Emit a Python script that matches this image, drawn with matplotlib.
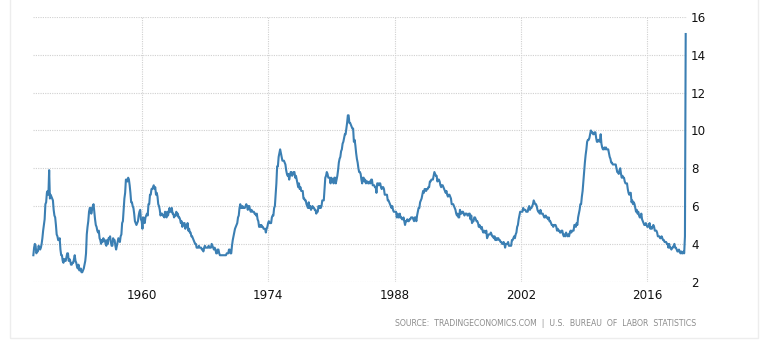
import matplotlib
matplotlib.use("Agg")
import matplotlib.pyplot as plt
import numpy as np
import pandas as pd
from matplotlib.patches import Rectangle

# US unemployment rate (%), monthly, Jan 1948 - Apr 2020
rate_1948_1959 = [
    3.4, 3.8, 4.0, 3.9, 3.5, 3.6, 3.6, 3.9, 3.8, 3.7, 3.8, 4.0,
    4.3, 4.7, 5.0, 5.3, 6.1, 6.2, 6.7, 6.8, 6.6, 7.9, 6.4, 6.6,
    6.5, 6.4, 6.3, 5.8, 5.5, 5.4, 5.0, 4.5, 4.4, 4.2, 4.2, 4.3,
    3.7, 3.4, 3.4, 3.1, 3.0, 3.2, 3.1, 3.1, 3.3, 3.5, 3.5, 3.1,
    3.2, 3.1, 2.9, 2.9, 3.0, 3.0, 3.2, 3.4, 3.1, 3.0, 2.8, 2.7,
    2.9, 2.6, 2.6, 2.7, 2.5, 2.5, 2.6, 2.7, 2.9, 3.1, 3.5, 4.5,
    4.9, 5.2, 5.7, 5.9, 5.9, 5.6, 5.8, 6.0, 6.1, 5.7, 5.3, 5.0,
    4.9, 4.7, 4.6, 4.7, 4.3, 4.2, 4.0, 4.2, 4.1, 4.3, 4.2, 4.2,
    4.0, 3.9, 4.2, 4.0, 4.3, 4.3, 4.4, 4.1, 3.9, 3.9, 4.3, 4.2,
    4.2, 3.9, 3.7, 3.9, 4.1, 4.3, 4.2, 4.1, 4.4, 4.5, 5.1, 5.2,
    5.8, 6.4, 6.7, 7.4, 7.4, 7.3, 7.5, 7.4, 7.1, 6.7, 6.2, 6.2,
    6.0, 5.9, 5.6, 5.2, 5.1, 5.0, 5.1, 5.2, 5.5, 5.7, 5.8, 5.3,
]
rate_1960_1969 = [
    5.2, 4.8, 5.4, 5.2, 5.1, 5.4, 5.5, 5.6, 5.5, 6.1, 6.1, 6.6,
    6.6, 6.9, 6.9, 7.0, 7.1, 6.9, 7.0, 6.6, 6.7, 6.5, 6.1, 6.0,
    5.8, 5.5, 5.6, 5.6, 5.5, 5.5, 5.4, 5.7, 5.6, 5.4, 5.7, 5.5,
    5.7, 5.9, 5.7, 5.7, 5.9, 5.6, 5.6, 5.4, 5.5, 5.5, 5.7, 5.5,
    5.6, 5.4, 5.4, 5.3, 5.1, 5.2, 4.9, 5.0, 5.1, 5.1, 4.8, 5.0,
    4.9, 5.1, 4.7, 4.8, 4.6, 4.6, 4.4, 4.4, 4.3, 4.2, 4.1, 4.0,
    4.0, 3.8, 3.8, 3.8, 3.9, 3.8, 3.8, 3.8, 3.7, 3.7, 3.6, 3.8,
    3.9, 3.8, 3.8, 3.8, 3.8, 3.9, 3.8, 3.8, 3.8, 4.0, 3.9, 3.8,
    3.7, 3.8, 3.7, 3.5, 3.5, 3.7, 3.7, 3.5, 3.4, 3.4, 3.4, 3.4,
    3.4, 3.4, 3.4, 3.4, 3.4, 3.5, 3.5, 3.5, 3.7, 3.7, 3.5, 3.5,
]
rate_1970_1979 = [
    3.9, 4.2, 4.4, 4.6, 4.8, 4.9, 5.0, 5.1, 5.4, 5.5, 5.9, 6.1,
    5.9, 5.9, 6.0, 5.9, 5.9, 5.9, 6.0, 6.1, 6.0, 5.8, 6.0, 6.0,
    5.8, 5.7, 5.8, 5.7, 5.7, 5.7, 5.6, 5.6, 5.5, 5.6, 5.3, 5.2,
    4.9, 5.0, 4.9, 5.0, 4.9, 4.9, 4.8, 4.8, 4.8, 4.6, 4.8, 4.9,
    5.1, 5.2, 5.1, 5.1, 5.1, 5.4, 5.5, 5.5, 5.9, 6.0, 6.6, 7.2,
    8.1, 8.1, 8.6, 8.8, 9.0, 8.8, 8.6, 8.4, 8.4, 8.4, 8.3, 8.2,
    7.9, 7.7, 7.6, 7.7, 7.4, 7.6, 7.8, 7.8, 7.6, 7.7, 7.8, 7.8,
    7.5, 7.6, 7.4, 7.2, 7.0, 7.2, 6.9, 7.0, 6.8, 6.8, 6.8, 6.4,
    6.4, 6.3, 6.3, 6.1, 6.0, 5.9, 6.2, 5.9, 6.0, 5.8, 5.9, 6.0,
    5.9, 5.9, 5.8, 5.8, 5.6, 5.7, 5.7, 6.0, 5.9, 6.0, 5.9, 6.0,
]
rate_1980_1989 = [
    6.3, 6.3, 6.3, 6.9, 7.5, 7.6, 7.8, 7.7, 7.5, 7.5, 7.5, 7.2,
    7.5, 7.4, 7.4, 7.2, 7.5, 7.5, 7.2, 7.4, 7.6, 7.9, 8.3, 8.5,
    8.6, 8.9, 9.0, 9.3, 9.4, 9.6, 9.8, 9.8, 10.1, 10.4, 10.8, 10.8,
    10.4, 10.4, 10.3, 10.2, 10.1, 10.1, 9.4, 9.5, 9.2, 8.8, 8.5, 8.3,
    8.0, 7.8, 7.8, 7.7, 7.4, 7.2, 7.5, 7.5, 7.3, 7.4, 7.2, 7.3,
    7.3, 7.2, 7.2, 7.3, 7.2, 7.4, 7.4, 7.1, 7.1, 7.1, 7.0, 7.0,
    6.7, 7.2, 7.2, 7.1, 7.2, 7.2, 7.0, 6.9, 7.0, 7.0, 6.9, 6.6,
    6.6, 6.6, 6.6, 6.3, 6.3, 6.2, 6.1, 6.0, 5.9, 6.0, 5.8, 5.7,
    5.7, 5.7, 5.7, 5.4, 5.6, 5.4, 5.4, 5.6, 5.4, 5.4, 5.3, 5.3,
    5.4, 5.2, 5.0, 5.2, 5.2, 5.3, 5.2, 5.2, 5.3, 5.3, 5.4, 5.4,
]
rate_1990_1999 = [
    5.4, 5.3, 5.2, 5.4, 5.4, 5.2, 5.5, 5.7, 5.9, 5.9, 6.2, 6.3,
    6.4, 6.6, 6.8, 6.7, 6.9, 6.9, 6.8, 6.9, 6.9, 7.0, 7.0, 7.3,
    7.3, 7.4, 7.4, 7.4, 7.6, 7.8, 7.7, 7.6, 7.6, 7.3, 7.4, 7.4,
    7.3, 7.1, 7.0, 7.1, 7.1, 7.0, 6.9, 6.8, 6.7, 6.8, 6.6, 6.5,
    6.6, 6.6, 6.5, 6.4, 6.1, 6.1, 6.1, 6.0, 5.9, 5.8, 5.6, 5.5,
    5.6, 5.4, 5.4, 5.8, 5.6, 5.6, 5.7, 5.7, 5.6, 5.5, 5.6, 5.6,
    5.6, 5.5, 5.5, 5.6, 5.6, 5.3, 5.5, 5.1, 5.2, 5.2, 5.4, 5.4,
    5.3, 5.2, 5.2, 5.1, 4.9, 5.0, 4.9, 4.8, 4.9, 4.7, 4.6, 4.7,
    4.6, 4.6, 4.7, 4.3, 4.4, 4.5, 4.5, 4.5, 4.6, 4.5, 4.4, 4.4,
    4.3, 4.4, 4.2, 4.3, 4.2, 4.3, 4.3, 4.2, 4.2, 4.1, 4.1, 4.0,
]
rate_2000_2009 = [
    4.0, 4.1, 4.0, 3.8, 4.0, 4.0, 4.0, 4.1, 3.9, 3.9, 3.9, 3.9,
    4.2, 4.2, 4.3, 4.4, 4.3, 4.5, 4.6, 4.9, 5.0, 5.3, 5.5, 5.7,
    5.7, 5.7, 5.7, 5.9, 5.8, 5.8, 5.8, 5.7, 5.7, 5.7, 5.9, 6.0,
    5.8, 5.9, 5.9, 6.0, 6.1, 6.3, 6.2, 6.1, 6.1, 6.0, 5.8, 5.7,
    5.7, 5.6, 5.8, 5.6, 5.6, 5.6, 5.5, 5.4, 5.4, 5.5, 5.4, 5.4,
    5.3, 5.4, 5.2, 5.2, 5.1, 5.0, 5.0, 4.9, 5.0, 5.0, 5.0, 4.9,
    4.7, 4.8, 4.7, 4.7, 4.6, 4.6, 4.7, 4.7, 4.5, 4.4, 4.5, 4.4,
    4.6, 4.5, 4.4, 4.5, 4.4, 4.6, 4.7, 4.6, 4.7, 4.7, 4.7, 5.0,
    5.0, 4.9, 5.1, 5.0, 5.4, 5.6, 5.8, 6.1, 6.1, 6.5, 6.8, 7.3,
    7.8, 8.3, 8.7, 9.0, 9.4, 9.5, 9.5, 9.6, 9.8, 10.0, 9.9, 9.9,
]
rate_2010_2020 = [
    9.8, 9.8, 9.9, 9.9, 9.6, 9.4, 9.4, 9.5, 9.5, 9.4, 9.8, 9.3,
    9.1, 9.0, 9.0, 9.1, 9.0, 9.1, 9.0, 9.0, 9.0, 8.8, 8.6, 8.5,
    8.3, 8.3, 8.2, 8.2, 8.2, 8.2, 8.2, 8.0, 7.8, 7.8, 7.7, 7.9,
    8.0, 7.7, 7.5, 7.6, 7.5, 7.5, 7.3, 7.2, 7.2, 7.2, 6.9, 6.7,
    6.6, 6.7, 6.7, 6.2, 6.3, 6.1, 6.2, 6.1, 5.9, 5.7, 5.8, 5.6,
    5.7, 5.5, 5.4, 5.4, 5.6, 5.3, 5.2, 5.1, 5.0, 5.0, 5.1, 5.0,
    4.9, 4.9, 5.0, 5.1, 4.8, 4.9, 4.8, 4.9, 5.0, 4.9, 4.7, 4.7,
    4.7, 4.6, 4.4, 4.4, 4.4, 4.3, 4.3, 4.4, 4.3, 4.2, 4.2, 4.1,
    4.1, 4.1, 4.0, 4.0, 3.8, 4.0, 3.8, 3.8, 3.7, 3.8, 3.8, 3.9,
    4.0, 3.8, 3.8, 3.7, 3.6, 3.6, 3.7, 3.6, 3.5, 3.6, 3.5, 3.5,
    3.6, 3.5, 4.4, 15.1,
]
start_year = 1948
x_ticks = [1960, 1974, 1988, 2002, 2016]
y_ticks = [2, 4, 6, 8, 10, 12, 14, 16]
source_text = "SOURCE:  TRADINGECONOMICS.COM  |  U.S.  BUREAU  OF  LABOR  STATISTICS"

values = np.array(rate_1948_1959 + rate_1960_1969 + rate_1970_1979 +
                  rate_1980_1989 + rate_1990_1999 + rate_2000_2009 +
                  rate_2010_2020)
t = start_year + np.arange(len(values)) / 12.0

W, H = 761, 343
fig = plt.figure(figsize=(W / 100, H / 100), dpi=100)
fig.patch.set_facecolor("white")

# outer light border
fig.patches.append(Rectangle((10 / W, 1 - 338 / H), 748 / W, 400 / H,
                             transform=fig.transFigure, fill=False,
                             edgecolor="#ededed", linewidth=1.0))

px_left, px_right = 33, 687
px_top, px_bottom = 17, 281.7
ax = fig.add_axes([px_left / W, 1 - px_bottom / H,
                   (px_right - px_left) / W, (px_bottom - px_top) / H])

ppy = 9.029
x0 = 1960 - (141.7 - px_left) / ppy
x1 = 1960 + (px_right - 141.7) / ppy
ax.set_xlim(x0, x1)
ax.set_ylim(2, 16)

for s in ax.spines.values():
    s.set_visible(False)

ax.set_yticks(y_ticks)
ax.set_xticks(x_ticks)
ax.yaxis.tick_right()
ax.tick_params(axis="y", length=0, pad=3, labelsize=8.6, labelcolor="#111111")
ax.tick_params(axis="x", length=0, pad=5, labelsize=8.6, labelcolor="#111111")
ax.set_yticklabels([str(v) for v in y_ticks])
ax.set_xticklabels([str(v) for v in x_ticks])

ax.grid(True, color="#d2d2d2", linewidth=0.8, linestyle=(0, (1.05, 1.05)))
ax.set_axisbelow(True)

ax.plot(t, values, color="#3b7fb3", linewidth=1.5, solid_joinstyle="round",
        clip_on=False, zorder=3)

fig.text(696 / W, 1 - 325.5 / H, source_text, ha="right", va="baseline",
         fontsize=5.6, color="#8c8c8c")

fig.savefig("out.png", dpi=100, facecolor="white")
